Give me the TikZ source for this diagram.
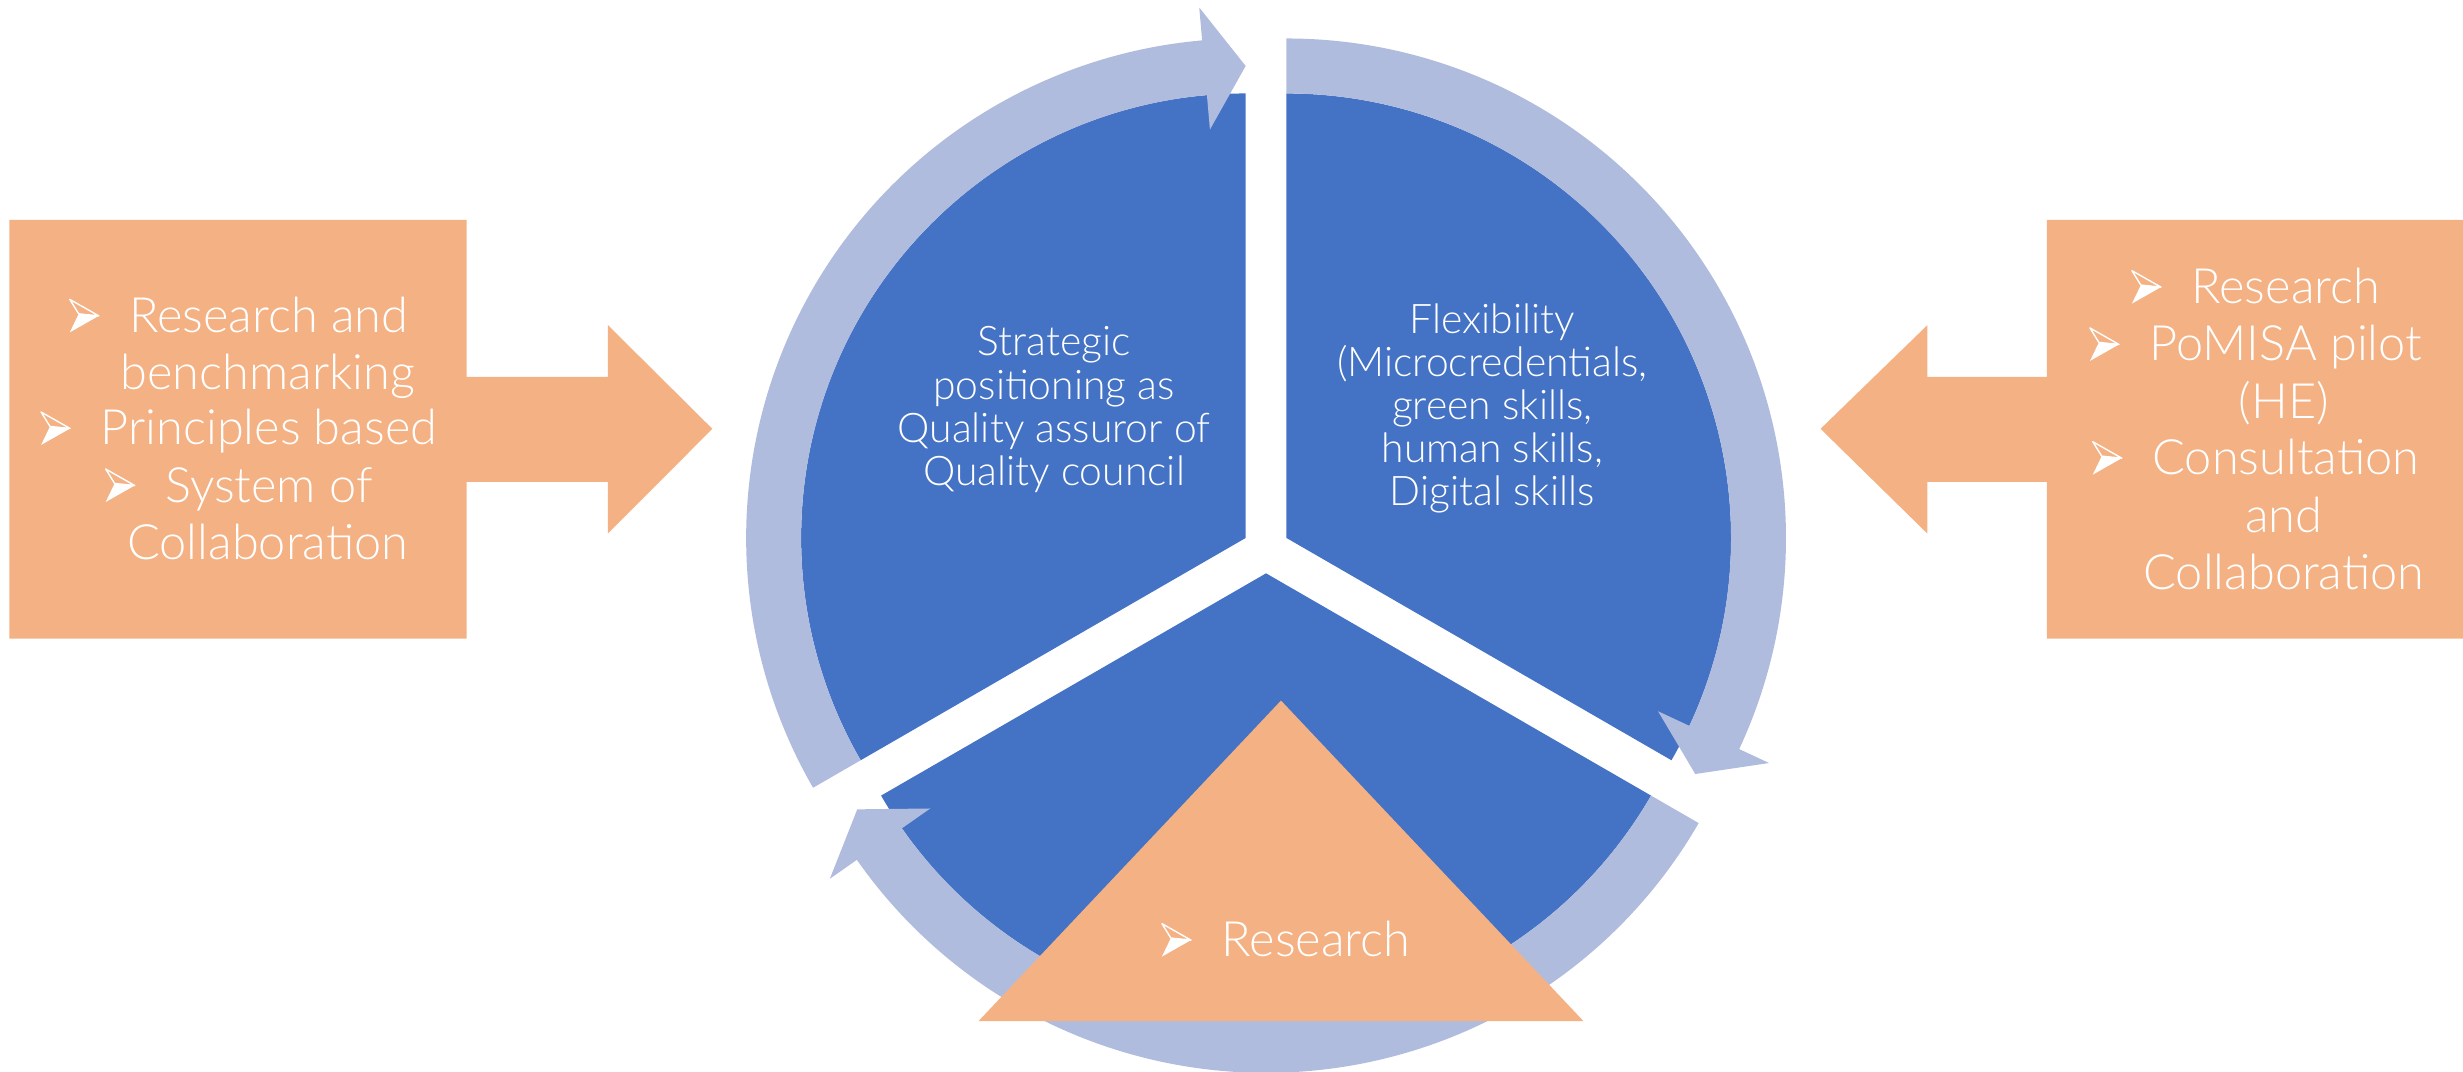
\documentclass[tikz,border=0pt]{standalone}
\usepackage{fontspec}
\setmainfont{Lato Light}
\definecolor{sect}{HTML}{4472C4}
\definecolor{ringc}{HTML}{B0BCDE}
\definecolor{orng}{HTML}{F4B183}
\newcommand{\bul}{\tikz[baseline=0pt,x=1pt,y=1pt]{\draw[white,line width=0.9pt,line join=round] (0,21)--(18.5,10.5)--(5.7,11.8)--cycle; \fill[white] (5.7,11.8)--(18.5,10.5)--(0,0)--cycle;}\hspace{19pt}}
\tikzset{
  boxtxt/.style={text=white, inner sep=0pt, anchor=base, font=\fontsize{31}{36}\selectfont},
  secttxt/.style={text=white, inner sep=0pt, anchor=base, font=\fontsize{26}{27.5}\selectfont},
}
\begin{document}
\begin{tikzpicture}[x=1pt,y=1pt]
\useasboundingbox (0,0) rectangle (1568,682);
% side arrows
\fill[orng] (6,542) -- (297,542) -- (297,442) -- (387,442) -- (387,475) -- (453.5,409) -- (387,342.3) -- (387,375.3) -- (297,375.3) -- (297,275.4) -- (6,275.4) -- cycle;
\fill[orng] (1570,542) -- (1303,542) -- (1303,442) -- (1227,442) -- (1227,475) -- (1159,409) -- (1227,342.3) -- (1227,375.3) -- (1303,375.3) -- (1303,275.4) -- (1570,275.4) -- cycle;
% central cycle
\begin{scope}[shift={(806,332)}]
  \begin{scope}[shift={(150:15)}]
    \fill[sect] (0,0) -- (90:283) arc[start angle=90, end angle=210, radius=283] -- cycle;
  \end{scope}
  \begin{scope}[shift={(30:15)}]
    \fill[sect] (0,0) -- (-30:283) arc[start angle=-30, end angle=90, radius=283] -- cycle;
  \end{scope}
  \begin{scope}[shift={(270:15)}]
    \fill[sect] (0,0) -- (210:283) arc[start angle=210, end angle=330, radius=283] -- cycle;
  \end{scope}
  % arrows of the ring
  \begin{scope}[shift={(150:15)}]
    \fill[ringc] (210:283) -- (210:318) arc[start angle=210, end angle=95, radius=318] -- (95:339) -- (90:300.5) -- (95:261) -- (95:283) arc[start angle=95, end angle=210, radius=283] -- cycle;
  \end{scope}
  \begin{scope}[shift={(30:15)}]
    \fill[ringc] (90:283) -- (90:318) arc[start angle=90, end angle=-25, radius=318] -- (-25:339) -- (-30:300.5) -- (-25:261) -- (-25:283) arc[start angle=-25, end angle=90, radius=283] -- cycle;
  \end{scope}
  \begin{scope}[shift={(270:15)}]
    \fill[ringc] (330:283) -- (330:318) arc[start angle=330, end angle=215, radius=318] -- (215:339) -- (210:300.5) -- (215:261) -- (215:283) arc[start angle=215, end angle=330, radius=283] -- cycle;
  \end{scope}
\end{scope}
% triangle
\fill[orng] (815.5,236) -- (623,32) -- (1008,32) -- cycle;
% sector texts
\node[secttxt] (l1) at (671,455.4) {Strategic};
\node[secttxt] (l2) at (671,427.9) {positioning as};
\node[secttxt] (l3) at (671,400.4) {Quality assuror of};
\node[secttxt] (l4) at (671,372.9) {Quality council};
\node[secttxt] (r1) at (950,469.5) {Flexibility};
\node[secttxt] (r2) at (950,442.1) {(Microcredentials,};
\node[secttxt] (r3) at (950,414.7) {green skills,};
\node[secttxt] (r4) at (950,387.3) {human skills,};
\node[secttxt] (r5) at (950,359.9) {Digital skills};
% left box texts
\node[boxtxt] (a1) at (152,470.4) {\bul Research and};
\node[boxtxt] (a2) at (170.5,434.2) {benchmarking};
\node[boxtxt] (a3) at (152,398.7) {\bul Principles based};
\node[boxtxt] (a4) at (152,362.4) {\bul System of};
\node[boxtxt] (a5) at (170.5,326) {Collaboration};
% right box texts
\node[boxtxt] (b1) at (1436,488.7) {\bul Research};
\node[boxtxt] (b2) at (1436,452.2) {\bul PoMISA pilot};
\node[boxtxt] (b3) at (1454,415.6) {(HE)};
\node[boxtxt] (b4) at (1436,379.8) {\bul Consultation};
\node[boxtxt] (b5) at (1454,343.3) {and};
\node[boxtxt] (b6) at (1454,307) {Collaboration};
% triangle text
\node[boxtxt] (t1) at (818.5,73) {\bul Research};
\end{tikzpicture}
\end{document}
